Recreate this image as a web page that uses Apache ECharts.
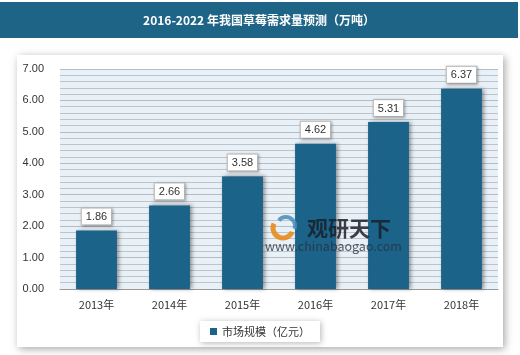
<!DOCTYPE html>
<html><head><meta charset="utf-8">
<script src="https://cdn.jsdelivr.net/npm/echarts@6/dist/echarts.min.js"></script>
<style>html,body{margin:0;padding:0;background:#fff}#c{width:520px;height:355px}</style>
</head><body><div id="c"></div>
<script>
var categories = ['2013年','2014年','2015年','2016年','2017年','2018年'];
var values = [1.86, 2.66, 3.58, 4.62, 5.31, 6.37];
var seriesName = '市场规模（亿元）';
var titleText = '2016-2022 年我国草莓需求量预测（万吨）';

var chart = echarts.init(document.getElementById('c'), null, {renderer:'canvas'});
var font = '"Noto Sans CJK SC","Noto Sans",sans-serif';
chart.setOption({
  animation:false,
  backgroundColor:'#fff',
  graphic:[
    {type:'rect', z:-10, shape:{x:17,y:55,width:486,height:292}, style:{fill:'#fff', shadowBlur:8, shadowColor:'rgba(0,0,0,0.35)', shadowOffsetX:2, shadowOffsetY:2}},
    {type:'rect', z:-5, shape:{x:0,y:2,width:518,height:36}, style:{fill:'#1d6487'}},
    {type:'text', z:10, x:259, y:20, style:{text:titleText, fill:'#fff', font:'bold 12px '+font, align:'center', verticalAlign:'middle'}},
    {type:'text', z:10, x:307, y:228, style:{text:'观研天下', fill:'#1a1f2a', font:'bold 21px '+font, align:'left', verticalAlign:'middle', opacity:0.85}},
    {type:'text', z:10, x:265, y:246, style:{text:'www.chinabaogao.com', fill:'#2a3040', font:'12.5px '+font, align:'left', verticalAlign:'middle', opacity:0.8}},
    {type:'arc', z:10, shape:{cx:283,cy:228,r:10,startAngle:0.4,endAngle:3.6}, style:{fill:'none', stroke:'#e8891a', lineWidth:5, opacity:0.9}},
    {type:'arc', z:10, shape:{cx:286,cy:226,r:9,startAngle:3.8,endAngle:6.6}, style:{fill:'none', stroke:'#4a8cb8', lineWidth:4, opacity:0.85}}
  ],
  grid:{left:60, right:22, top:69, bottom:66, show:true, backgroundColor:'#e9f1f8', borderWidth:0},
  legend:{
    data:[seriesName], bottom:13, left:'center',
    icon:'rect', itemWidth:7, itemHeight:7, itemGap:6,
    backgroundColor:'#fff', padding:[5,10,5,10],
    shadowBlur:6, shadowColor:'rgba(0,0,0,0.3)', shadowOffsetX:1, shadowOffsetY:1,
    textStyle:{fontSize:11, color:'#333', fontFamily:font}
  },
  xAxis:{
    type:'category', data:categories,
    axisLine:{lineStyle:{color:'#999'}}, axisTick:{show:false},
    axisLabel:{fontSize:11, color:'#333', margin:10, fontFamily:font}
  },
  yAxis:{
    type:'value', min:0, max:7, interval:1,
    axisLine:{show:false}, axisTick:{show:false},
    axisLabel:{fontSize:11, color:'#333', margin:16, formatter:function(v){return v.toFixed(2);}},
    splitLine:{lineStyle:{color:'#b8bcc0', width:1}},
    minorTick:{show:false, splitNumber:5},
    minorSplitLine:{show:true, lineStyle:{color:'#c0c4c8', width:1}}
  },
  series:[{
    name:seriesName, type:'bar', data:values, barWidth:'56%',
    itemStyle:{color:'#1b6388', shadowBlur:4, shadowColor:'rgba(0,0,0,0.4)', shadowOffsetX:2, shadowOffsetY:0},
    label:{show:true, position:'top', distance:6, fontSize:11, color:'#333',
      backgroundColor:'#fff', borderColor:'#bbb', borderWidth:1, padding:[3,4,2,4],
      shadowBlur:3, shadowColor:'rgba(0,0,0,0.3)', shadowOffsetX:1, shadowOffsetY:1,
      formatter:function(p){return p.value.toFixed(2);}}
  }]
});
</script></body></html>
